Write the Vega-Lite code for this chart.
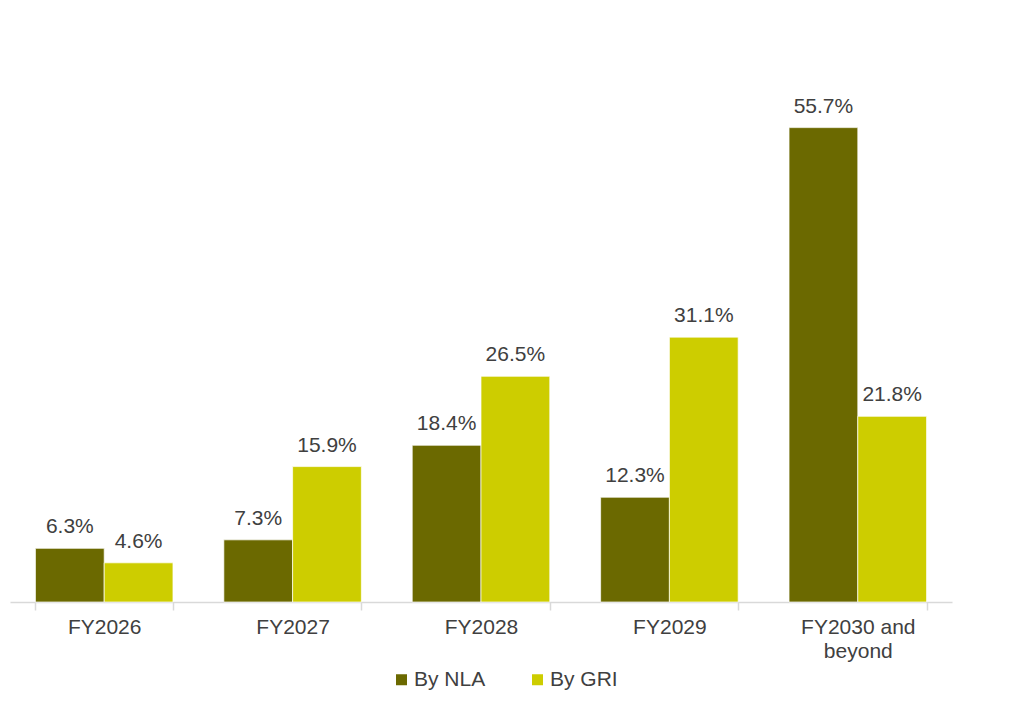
{
  "$schema": "https://vega.github.io/schema/vega-lite/v6.json",
  "width": 942,
  "height": 511,
  "autosize": {"type": "none"},
  "padding": {"left": 10, "top": 91, "right": 67, "bottom": 112},
  "background": "#ffffff",
  "config": {
    "view": {"stroke": null},
    "font": "Liberation Sans",
    "text": {"font": "Liberation Sans"}
  },
  "data": {
    "values": [
      {"year": "FY2026", "series": "By NLA", "value": 6.3},
      {"year": "FY2026", "series": "By GRI", "value": 4.6},
      {"year": "FY2027", "series": "By NLA", "value": 7.3},
      {"year": "FY2027", "series": "By GRI", "value": 15.9},
      {"year": "FY2028", "series": "By NLA", "value": 18.4},
      {"year": "FY2028", "series": "By GRI", "value": 26.5},
      {"year": "FY2029", "series": "By NLA", "value": 12.3},
      {"year": "FY2029", "series": "By GRI", "value": 31.1},
      {"year": "FY2030 and beyond", "series": "By NLA", "value": 55.7},
      {"year": "FY2030 and beyond", "series": "By GRI", "value": 21.8}
    ]
  },
  "encoding": {
    "x": {
      "field": "year",
      "type": "nominal",
      "sort": null,
      "scale": {"paddingInner": 0.27, "paddingOuter": 0.135},
      "axis": {
        "title": null,
        "labelAngle": 0,
        "labelFont": "Liberation Sans",
        "labelFontSize": 21,
        "labelColor": "#404040",
        "labelPadding": 6,
        "labelLineHeight": 24,
        "labelExpr": "datum.value == 'FY2030 and beyond' ? ['FY2030 and', 'beyond'] : datum.value",
        "domainColor": "#d9d9d9",
        "domainWidth": 1.5,
        "tickColor": "#d9d9d9",
        "tickWidth": 1.5,
        "tickSize": 8,
        "tickBand": "extent"
      }
    },
    "xOffset": {"field": "series", "type": "nominal", "sort": ["By NLA", "By GRI"], "scale": {"paddingInner": 0}},
    "y": {
      "field": "value",
      "type": "quantitative",
      "scale": {"domain": [0, 60]},
      "axis": null
    }
  },
  "layer": [
    {
      "mark": {"type": "bar", "stroke": "#ffffff", "strokeWidth": 0.7},
      "encoding": {
        "color": {
          "field": "series",
          "type": "nominal",
          "sort": ["By NLA", "By GRI"],
          "scale": {"domain": ["By NLA", "By GRI"], "range": ["#6b6900", "#cdcd00"]},
          "legend": {
            "title": null,
            "orient": "none",
            "direction": "horizontal",
            "legendX": 381,
            "legendY": 578,
            "padding": 0,
            "symbolType": "square",
            "symbolSize": 121,
            "symbolStrokeWidth": 0,
            "labelFont": "Liberation Sans",
            "labelFontSize": 21,
            "labelColor": "#404040",
            "labelOffset": 2,
            "columnPadding": 41
          }
        }
      }
    },
    {
      "transform": [{"calculate": "format(datum.value, '.1f') + '%'", "as": "label"}],
      "mark": {"type": "text", "baseline": "alphabetic", "dy": -15, "font": "Liberation Sans", "fontSize": 21, "color": "#404040"},
      "encoding": {
        "text": {"field": "label", "type": "nominal"},
        "color": {"value": "#404040"}
      }
    }
  ]
}
